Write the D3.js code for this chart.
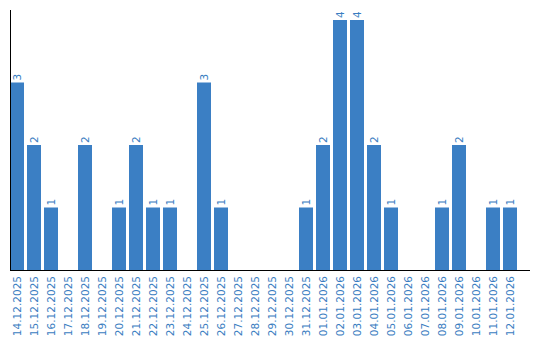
<!DOCTYPE html>
<html>
<head>
<meta charset="utf-8">
<script src="https://cdn.jsdelivr.net/npm/d3@7"></script>
<style>
  body { margin: 0; background: #fff; }
  svg { display: block; }
  text { font-family: "DejaVu Sans", sans-serif; font-size: 10.5px; fill: #3a7dc1; }
</style>
</head>
<body>
<div id="chart"></div>
<script>
var dates = ['14.12.2025','15.12.2025','16.12.2025','17.12.2025','18.12.2025','19.12.2025',
  '20.12.2025','21.12.2025','22.12.2025','23.12.2025','24.12.2025','25.12.2025','26.12.2025',
  '27.12.2025','28.12.2025','29.12.2025','30.12.2025','31.12.2025','01.01.2026','02.01.2026',
  '03.01.2026','04.01.2026','05.01.2026','06.01.2026','07.01.2026','08.01.2026','09.01.2026',
  '10.01.2026','11.01.2026','12.01.2026'];
var counts = [3,2,1,0,2,0,1,2,1,1,0,3,1,0,0,0,0,1,2,4,4,2,1,0,0,1,2,0,1,1];

(function() {
  var width = 540, height = 340;
  var base = 270;

  var svg = d3.select('#chart').append('svg')
    .attr('width', width)
    .attr('height', height);

  // 17px per day, 3px gap between bars
  var x = d3.scaleBand()
    .domain(dates)
    .range([10, 10 + dates.length * 17 - 3])
    .paddingInner(3 / 17)
    .paddingOuter(0);

  var y = d3.scaleLinear()
    .domain([0, 4])
    .range([base, 20]);

  var data = dates.map(function(d, i) { return {date: d, n: counts[i]}; });

  svg.selectAll('rect.bar')
    .data(data.filter(function(d) { return d.n > 0; }))
    .enter().append('rect')
    .attr('class', 'bar')
    .attr('x', function(d) { return x(d.date); })
    .attr('y', function(d) { return y(d.n); })
    .attr('width', x.bandwidth())
    .attr('height', function(d) { return base - y(d.n); })
    .attr('fill', '#3b7fc4');

  // value labels, rotated
  svg.selectAll('text.val')
    .data(data.filter(function(d) { return d.n > 0; }))
    .enter().append('text')
    .attr('class', 'val')
    .attr('transform', function(d) {
      return 'translate(' + (x(d.date) + x.bandwidth() / 2 + 4) + ',' + (y(d.n) - 2) + ') rotate(-90)';
    })
    .text(function(d) { return d.n; });

  // date labels
  svg.selectAll('text.date')
    .data(dates)
    .enter().append('text')
    .attr('class', 'date')
    .attr('text-anchor', 'end')
    .attr('transform', function(d) {
      return 'translate(' + (x(d) + x.bandwidth() / 2 + 4) + ',' + (base + 6) + ') rotate(-90)';
    })
    .text(function(d) { return d; });

  // axis lines
  svg.append('line')
    .attr('x1', 10.5).attr('x2', 10.5)
    .attr('y1', 10).attr('y2', base)
    .attr('stroke', '#000').attr('stroke-width', 1);

  svg.append('line')
    .attr('x1', 10).attr('x2', 530)
    .attr('y1', base + 0.5).attr('y2', base + 0.5)
    .attr('stroke', '#000').attr('stroke-width', 1);
})();
</script>
</body>
</html>
